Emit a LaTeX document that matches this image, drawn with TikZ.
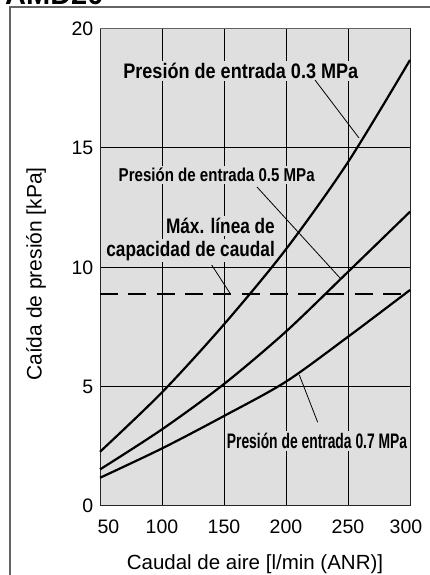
\documentclass[tikz,border=0pt]{standalone}
\usepackage{fontspec}
\setmainfont{Liberation Sans}
\usepackage{graphicx}
\definecolor{plotgrey}{RGB}{223,223,223}
\definecolor{framegrey}{RGB}{100,100,100}
\tikzset{
  curve/.style={line width=2.2pt, line join=round},
  gridline/.style={line width=0.7pt, black},
  leader/.style={line width=0.8pt, black},
  lbl/.style={fill=plotgrey, inner sep=2pt, font=\fontsize{21}{24}\bfseries\selectfont},
  tick/.style={inner sep=0pt, font=\fontsize{19.5}{22}\selectfont},
  axlabel/.style={inner sep=0pt, font=\fontsize{20.5}{24}\selectfont},
}
\begin{document}
\begin{tikzpicture}[x=1pt,y=-1pt]
\useasboundingbox (0,0) rectangle (430,575);
% title (partly cut off at the top)
\node[anchor=base west, inner sep=0pt, font=\fontsize{29}{32}\bfseries\selectfont] (title) at (5,4.5) {AMD20};
% outer frame
\draw[framegrey, line width=1.2pt] (430,7) -- (10,7) -- (10,575);
% plot in data coordinates
\begin{scope}[shift={(38,505.7)}, x=1.24pt, y=23.86pt]
  \fill[plotgrey] (50,0) rectangle (300,20);
  \foreach \q in {100,150,200,250} \draw[gridline] (\q,0) -- (\q,20);
  \foreach \p in {5,10,15} \draw[gridline] (50,\p) -- (300,\p);
  \draw[black!85, line width=0.9pt] (50,20) -- (50,0) -- (300,0) -- (300,20);
  \draw[framegrey, line width=0.9pt] (50,20) -- (300,20);
  \draw[line width=2.2pt, dash pattern=on 18pt off 10.3pt] (50,8.87) -- (300,8.87);
\end{scope}
% labels with grey background (drawn before curves)
\node[lbl, anchor=base] (l3) at (240.8,78.3) {\scalebox{0.86}[1]{Presión de entrada 0.3 MPa}};
\node[lbl, anchor=base, font=\fontsize{18.6}{22}\bfseries\selectfont] (l5) at (216.7,181.7) {\scalebox{0.81}[1]{Presión de entrada 0.5 MPa}};
\node[lbl, anchor=base east] (lma) at (277,233.3) {\scalebox{0.82}[1]{Máx. línea de}};
\node[lbl, anchor=base east] (lmb) at (277,256) {\scalebox{0.82}[1]{capacidad de caudal}};
\node[lbl, anchor=base] (l7) at (317,448.3) {\scalebox{0.66}[1]{Presión de entrada 0.7 MPa}};
\begin{scope}[shift={(38,505.7)}, x=1.24pt, y=23.86pt]
  \draw[curve] plot[smooth] coordinates {(50,2.26) (100,4.75) (150,7.6) (200,10.75) (250,14.4) (300,18.68)};
  \draw[curve] plot[smooth] coordinates {(50,1.52) (100,3.2) (150,5.1) (200,7.3) (250,9.8) (300,12.32)};
  \draw[curve] plot[smooth] coordinates {(50,1.17) (100,2.4) (150,3.76) (200,5.2) (250,7.08) (300,9.04)};
\end{scope}
% leaders
\coordinate (a3) at (315,80);   \coordinate (b3) at (359,138);
\coordinate (a5) at (257,187);  \coordinate (b5) at (340,278);
\coordinate (am) at (211.7,265); \coordinate (bm) at (230,293.3);
\coordinate (a7) at (317.7,422.3); \coordinate (b7) at (299.3,375);
\draw[leader] (a3) -- (b3);
\draw[leader] (a5) -- (b5);
\draw[leader] (am) -- (bm);
\draw[leader] (a7) -- (b7);
% tick labels
\node[tick, anchor=base] (x50) at (108.5,533.3) {50};
\node[tick, anchor=base] (x100) at (162,533.3) {100};
\node[tick, anchor=base] (x150) at (224,533.3) {150};
\node[tick, anchor=base] (x200) at (286,533.3) {200};
\node[tick, anchor=base] (x250) at (348,533.3) {250};
\node[tick, anchor=base] (x300) at (406,533.3) {300};
\node[tick, anchor=base east] (y20) at (93.5,35.5) {20};
\node[tick, anchor=base east] (y15) at (93.5,154.8) {15};
\node[tick, anchor=base east] (y10) at (93.5,274) {10};
\node[tick, anchor=base east] (y5) at (93.5,393.4) {5};
\node[tick, anchor=base east] (y0) at (93.5,512.7) {0};
% axis labels
\node[axlabel, anchor=base] (xlab) at (255,569.5) {Caudal de aire [l/min (ANR)]};
\node[axlabel, anchor=base, rotate=90, font=\fontsize{21}{24}\selectfont] (ylab) at (41.7,274) {Caída de presión [kPa]};
\end{tikzpicture}
\end{document}
